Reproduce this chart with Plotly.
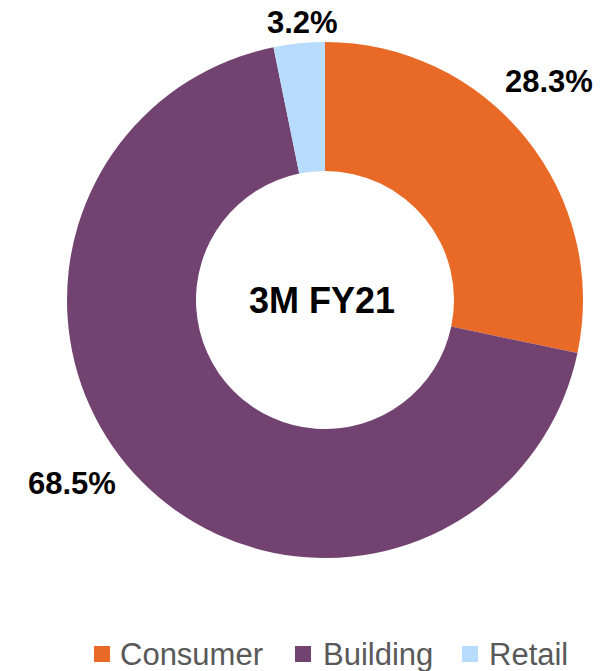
import plotly.graph_objects as go

categories = ["Consumer", "Building", "Retail"]
values = [28.3, 68.5, 3.2]
colors = ["#E96A26", "#724370", "#B8DCFE"]
center_label = "3M FY21"
# label anchor positions (paper px) for the outside percentage labels
label_px = [(549, 82), (72, 483), (302, 22)]
# legend layout (px): square left edge, text left edge
legend_px = [(94, 118), (295, 321), (462, 487)]

W, H = 613, 671
fig = go.Figure()
fig.add_trace(go.Pie(
    labels=categories,
    values=values,
    sort=False,
    direction="clockwise",
    rotation=0,
    hole=0.5,
    marker=dict(colors=colors, line=dict(width=0)),
    textinfo="none",
    hoverinfo="label+percent",
    showlegend=False,
    domain=dict(x=[(325 - 258) / W, (325 + 258) / W],
                y=[(371 - 258) / H, (371 + 258) / H]),
))

lab_font = dict(family="Liberation Sans, Arial", size=31, color="#000000", weight="bold")
anns = []
for v, (px, py) in zip(values, label_px):
    anns.append(dict(x=px / W, y=1 - py / H, xref="paper", yref="paper", text=f"{v:.1f}%",
                     showarrow=False, xanchor="center", yanchor="middle", font=lab_font))
anns.append(dict(x=322 / W, y=1 - 300 / H, xref="paper", yref="paper", text=center_label,
                 showarrow=False, xanchor="center", yanchor="middle",
                 font=dict(family="Liberation Sans, Arial", size=36, color="#000000", weight="bold")))

shapes = []
for cat, col, (sx, tx) in zip(categories, colors, legend_px):
    shapes.append(dict(type="rect", xref="paper", yref="paper",
                       x0=sx / W, x1=(sx + 16) / W, y0=1 - 662 / H, y1=1 - 646 / H,
                       fillcolor=col, line=dict(width=0)))
    anns.append(dict(x=tx / W, y=1 - 654 / H, xref="paper", yref="paper", text=cat,
                     showarrow=False, xanchor="left", yanchor="middle",
                     font=dict(family="Liberation Sans, Arial", size=31, color="#595959")))

fig.update_layout(
    width=W, height=H,
    margin=dict(l=0, r=0, t=0, b=0),
    paper_bgcolor="white",
    plot_bgcolor="white",
    annotations=anns,
    shapes=shapes,
    showlegend=False,
)
fig.write_html("out.html")
